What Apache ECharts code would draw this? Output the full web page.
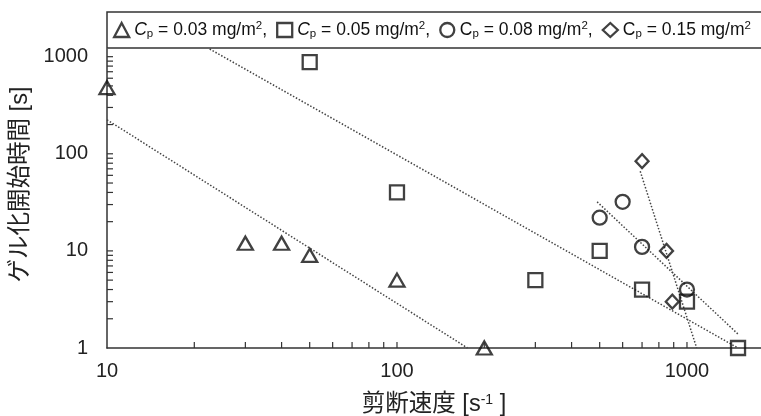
<!DOCTYPE html>
<html>
<head>
<meta charset="utf-8">
<script src="https://cdn.jsdelivr.net/npm/echarts@6/dist/echarts.min.js"></script>
<style>
  html, body { margin: 0; padding: 0; background: #fff; }
  #chart { width: 761px; height: 416px; }
</style>
</head>
<body>
<div id="chart"></div>
<script>
// 剪断速度 [s-1] と ゲル化開始時間 [s]
var cp003 = [[10, 480], [30, 12], [40, 12], [50, 9], [100, 5], [200, 1]];
var cp005 = [[50, 880], [100, 40], [300, 5], [500, 10], [700, 4], [1000, 3], [1500, 1]];
var cp008 = [[500, 22], [600, 32], [700, 11], [1000, 4]];
var cp015 = [[700, 84], [850, 10], [890, 3]];

// 近似線 (点線)
var fit003 = [[10, 224], [175, 1]];
var fit005 = [[22.6, 1200], [1500, 1]];
var fit008 = [[490, 32], [1500, 1.39]];
var fit015 = [[690, 66], [1080, 1]];

var seriesNames = ['Cp = 0.03', 'Cp = 0.05', 'Cp = 0.08', 'Cp = 0.15'];
var legendLabels = [
	'{i|C}{s|p} = 0.03 mg/m{u|2},',
	'{i|C}{s|p} = 0.05 mg/m{u|2},',
	'C{s|p} = 0.08 mg/m{u|2},',
	'C{s|p} = 0.15 mg/m{u|2}'
];
var symbols = ['triangle', 'rect', 'circle', 'diamond'];

// 目盛り
var xTicks = [20, 30, 40, 50, 60, 70, 80, 90, 100, 200, 300, 400, 500, 600, 700, 800, 900, 1000];
var yTicks = [2, 3, 4, 5, 6, 7, 8, 9, 10, 20, 30, 40, 50, 60, 70, 80, 90, 100,
	200, 300, 400, 500, 600, 700, 800, 900, 1000];
var xMin = 10, xMax = 1800, yMin = 1, yMax = 1200;

var FONT = '"Liberation Sans", Arial, "Noto Sans CJK JP", sans-serif';
var INK = '#111';

var myChart = echarts.init(document.getElementById('chart'));

function decadeLabel(v) {
	var l = Math.log10(v);
	if (Math.abs(l - Math.round(l)) < 1e-6) {
		return String(Math.round(v));
	}
	return '';
}

var pointData = [cp003, cp005, cp008, cp015];
var fits = [fit003, fit005, fit008, fit015];

var series = [];
fits.forEach(function (d) {
	series.push({
		type: 'line',
		data: d,
		symbol: 'none',
		silent: true,
		z: 3,
		lineStyle: { color: '#444', width: 1.5, type: [1.5, 1.8] }
	});
});
pointData.forEach(function (d, i) {
	series.push({
		name: seriesNames[i],
		type: 'scatter',
		data: d,
		symbol: symbols[i],
		symbolSize: i === 3 ? [13, 14] : (i === 0 ? [15, 13] : 14),
		z: 4,
		itemStyle: { color: 'rgba(0,0,0,0)', borderColor: INK, borderWidth: 2.3 },
		emphasis: { disabled: true }
	});
});
// x軸の小目盛り
series.push({
	type: 'custom',
	silent: true,
	z: 6,
	data: xTicks.map(function (v) { return [v, yMin]; }),
	renderItem: function (params, api) {
		var p = api.coord([api.value(0), yMin]);
		return {
			type: 'line',
			z2: 10,
			shape: { x1: p[0], y1: p[1], x2: p[0], y2: p[1] - 6 },
			style: { stroke: '#333', lineWidth: 1.2 }
		};
	}
});
// y軸の小目盛り
series.push({
	type: 'custom',
	silent: true,
	z: 6,
	data: yTicks.map(function (v) { return [xMin, v]; }),
	renderItem: function (params, api) {
		var p = api.coord([xMin, api.value(1)]);
		return {
			type: 'line',
			z2: 10,
			shape: { x1: p[0], y1: p[1], x2: p[0] + 6, y2: p[1] },
			style: { stroke: '#333', lineWidth: 1.2 }
		};
	}
});

myChart.setOption({
	animation: false,
	textStyle: { fontFamily: FONT, color: INK },
	grid: { left: 107, right: 0, top: 49, bottom: 68, outerBoundsMode: 'none' },
	graphic: [{
		type: 'rect',
		shape: { x: 107, y: 12, width: 700, height: 36 },
		style: { fill: 'none', stroke: '#333', lineWidth: 1.5 },
		z: 10
	}],
	legend: {
		data: seriesNames.map(function (n, i) { return { name: n, icon: symbols[i] }; }),
		left: 113,
		top: 20,
		padding: 0,
		itemGap: 9,
		itemWidth: 15,
		itemHeight: 14,
		selectedMode: false,
		itemStyle: { color: 'rgba(0,0,0,0)', borderColor: INK, borderWidth: 2.3 },
		formatter: function (name) {
			return legendLabels[seriesNames.indexOf(name)];
		},
		textStyle: {
			fontFamily: FONT,
			fontSize: 17.5,
			color: INK,
			lineHeight: 20,
			rich: {
				i: { fontFamily: FONT, fontSize: 17.5, fontStyle: 'italic', color: INK, lineHeight: 20 },
				s: { fontFamily: FONT, fontSize: 11.5, color: INK, lineHeight: 11, verticalAlign: 'bottom' },
				u: { fontFamily: FONT, fontSize: 11.5, color: INK, lineHeight: 11, verticalAlign: 'top' }
			}
		}
	},
	xAxis: {
		type: 'log',
		min: xMin,
		max: xMax,
		name: '剪断速度 [s{u|-1} ]',
		nameLocation: 'middle',
		nameGap: 45,
		nameTextStyle: {
			fontFamily: FONT, fontSize: 23.5, color: '#222',
			rich: { u: { fontFamily: FONT, fontSize: 14, color: '#222', lineHeight: 14, verticalAlign: 'top' } }
		},
		axisLine: { lineStyle: { color: '#333', width: 1.5 } },
		axisTick: { show: false },
		splitLine: { show: false },
		axisLabel: { fontSize: 20, color: '#222', margin: 13, formatter: decadeLabel }
	},
	yAxis: {
		type: 'log',
		min: yMin,
		max: yMax,
		name: 'ゲル化開始時間 [s]',
		nameLocation: 'middle',
		nameGap: 67,
		nameTextStyle: { fontFamily: FONT, fontSize: 23.5, color: '#222', padding: [0, 0, 0, 28] },
		axisLine: { lineStyle: { color: '#333', width: 1.5 } },
		axisTick: { show: false },
		splitLine: { show: false },
		axisLabel: { fontSize: 20, color: '#222', margin: 19, formatter: decadeLabel }
	},
	series: series
});
window.onresize = function () {
	myChart.resize();
};
</script>
</body>
</html>
